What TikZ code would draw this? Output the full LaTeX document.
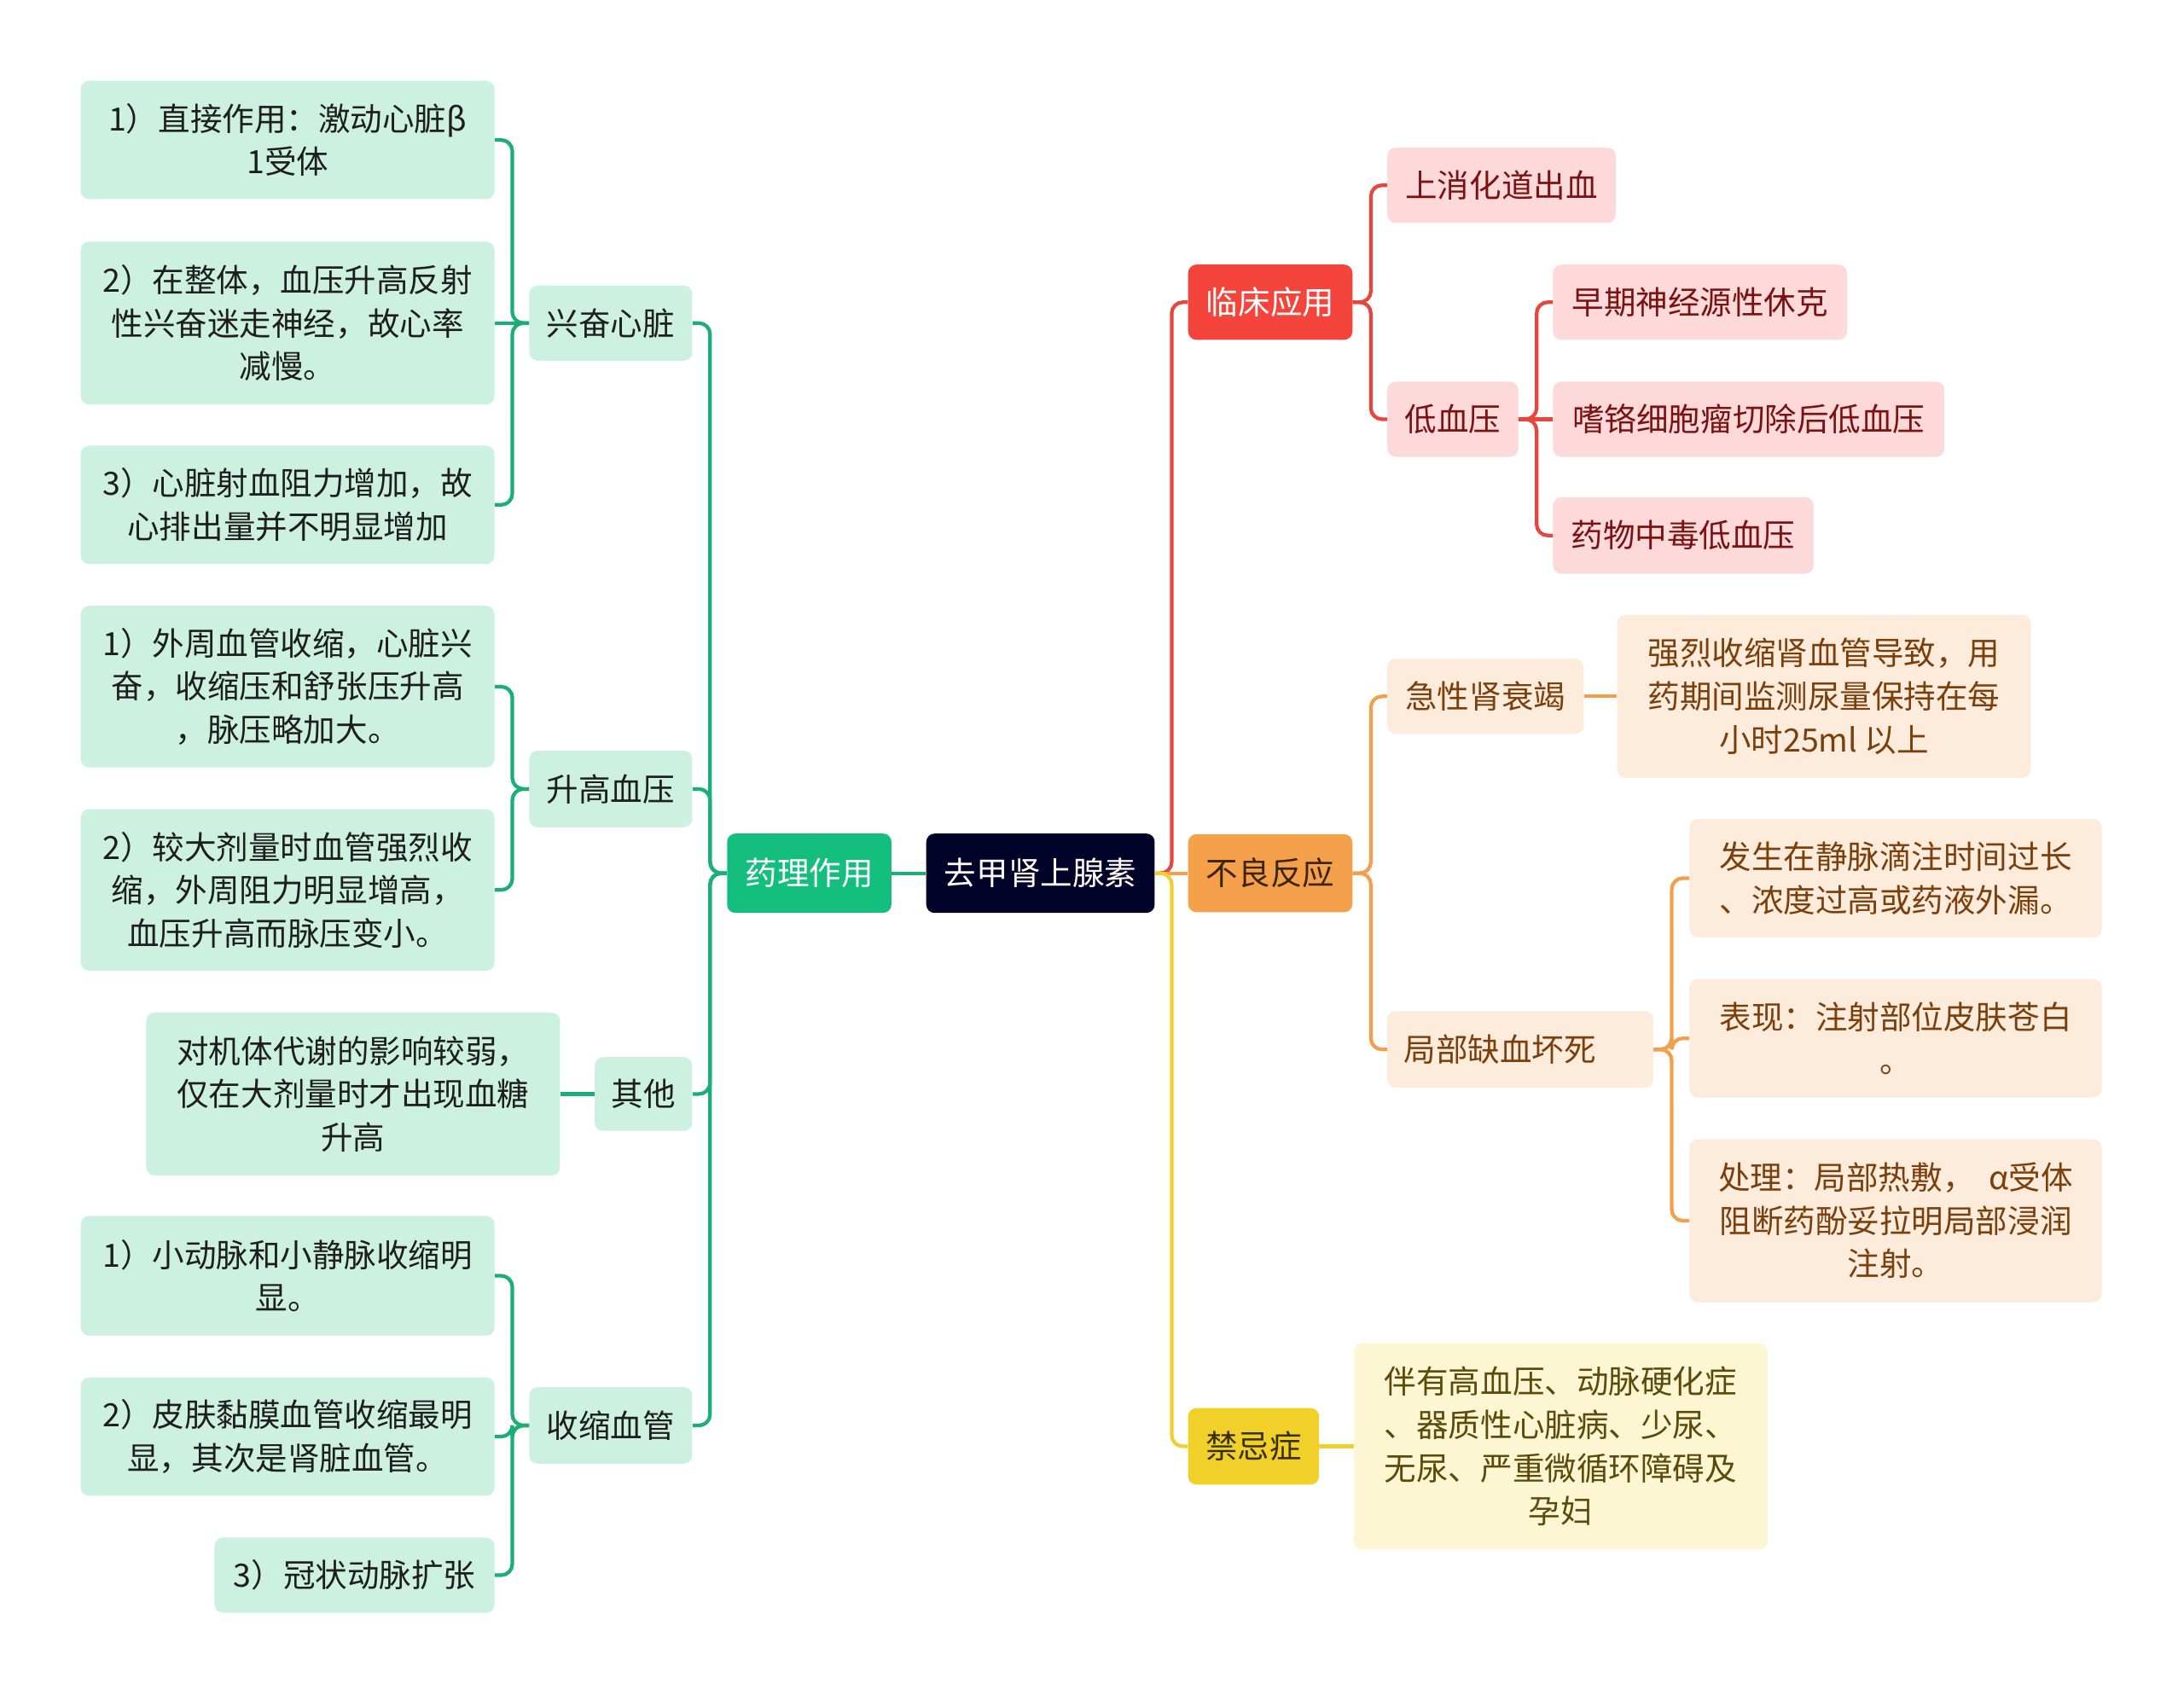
\documentclass[tikz,border=0pt]{standalone}
\usepackage{fontspec}
\setmainfont{Noto Sans CJK SC}
\definecolor{gline}{HTML}{1AAF76}
\definecolor{gmain}{HTML}{13BE7F}
\definecolor{gfill}{HTML}{CDF1E1}
\definecolor{gtext}{HTML}{1E1E1E}
\definecolor{rootfill}{HTML}{03032A}
\definecolor{rline}{HTML}{E8463D}
\definecolor{rmain}{HTML}{F4443B}
\definecolor{rfill}{HTML}{FDD9D9}
\definecolor{rtext}{HTML}{7A1212}
\definecolor{oline}{HTML}{F2A04E}
\definecolor{omain}{HTML}{F5A04B}
\definecolor{otextm}{HTML}{3C2408}
\definecolor{ofill}{HTML}{FDEBDB}
\definecolor{otext}{HTML}{7B3F0C}
\definecolor{yline}{HTML}{F0D02C}
\definecolor{ymain}{HTML}{F2D02A}
\definecolor{ytextm}{HTML}{3A3006}
\definecolor{yfill}{HTML}{FDF6D2}
\definecolor{ytext}{HTML}{5C4A0A}
\tikzset{
  box/.style={rounded corners=6pt, inner sep=0pt, align=center, font=\fontsize{23}{31}\selectfont},
  rootbox/.style={box, fill=rootfill, text=white},
  gmainbox/.style={box, fill=gmain, text=white},
  gbox/.style={box, fill=gfill, text=gtext},
  rmainbox/.style={box, fill=rmain, text=white},
  rbox/.style={box, fill=rfill, text=rtext},
  omainbox/.style={box, fill=omain, text=otextm},
  obox/.style={box, fill=ofill, text=otext},
  ymainbox/.style={box, fill=ymain, text=ytextm},
  ybox/.style={box, fill=yfill, text=ytext},
  conn/.style={line width=2.6pt, rounded corners=8pt},
  gconn/.style={conn, draw=gline},
  rconn/.style={conn, draw=rline},
  oconn/.style={conn, draw=oline},
  yconn/.style={conn, draw=yline}
}
\begin{document}
\begin{tikzpicture}[x=1pt,y=-1pt]
\useasboundingbox[fill=white] (0,0) rectangle (1568,1217);
% root and main branches
\node[rootbox, minimum width=164pt, minimum height=57pt] (root) at (747,627) {去甲肾上腺素};
\node[gmainbox, minimum width=118pt, minimum height=57pt] (yl) at (581,627) {药理作用};
\node[rmainbox, minimum width=118pt, minimum height=54pt] (lc) at (912,217) {临床应用};
\node[omainbox, minimum width=118pt, minimum height=56pt] (bl) at (912,627) {不良反应};
\node[ymainbox, minimum width=94pt, minimum height=55pt] (jj) at (900,1038.5) {禁忌症};
% left second level
\node[gbox, minimum width=117pt, minimum height=54pt] (xf) at (438.5,232) {兴奋心脏};
\node[gbox, minimum width=117pt, minimum height=55pt] (sg) at (438.5,566.5) {升高血压};
\node[gbox, minimum width=70pt, minimum height=53pt] (qt) at (462,785.5) {其他};
\node[gbox, minimum width=117pt, minimum height=55pt] (ss) at (438.5,1023.5) {收缩血管};
% left leaves
\node[gbox, minimum width=297pt, minimum height=85pt] (a1) at (206.5,100.5) {1）直接作用：激动心脏β\\1受体};
\node[gbox, minimum width=297pt, minimum height=117pt] (a2) at (206.5,232) {2）在整体，血压升高反射\\性兴奋迷走神经，故心率\\减慢。};
\node[gbox, minimum width=297pt, minimum height=85pt] (a3) at (206.5,362.5) {3）心脏射血阻力增加，故\\心排出量并不明显增加};
\node[gbox, minimum width=297pt, minimum height=116pt] (b1) at (206.5,493) {1）外周血管收缩，心脏兴\\奋，收缩压和舒张压升高\\，脉压略加大。};
\node[gbox, minimum width=297pt, minimum height=116pt] (b2) at (206.5,639) {2）较大剂量时血管强烈收\\缩，外周阻力明显增高，\\血压升高而脉压变小。};
\node[gbox, minimum width=297pt, minimum height=117pt] (c1) at (253.5,785.5) {对机体代谢的影响较弱，\\仅在大剂量时才出现血糖\\升高};
\node[gbox, minimum width=297pt, minimum height=86pt] (d1) at (206.5,916) {1）小动脉和小静脉收缩明\\显。};
\node[gbox, minimum width=297pt, minimum height=85pt] (d2) at (206.5,1031.5) {2）皮肤黏膜血管收缩最明\\显，其次是肾脏血管。};
\node[gbox, minimum width=201pt, minimum height=54pt] (d3) at (254.5,1131) {3）冠状动脉扩张};
% right: clinical use
\node[rbox, minimum width=164pt, minimum height=54pt] (r1) at (1078,133) {上消化道出血};
\node[rbox, minimum width=94pt, minimum height=54pt] (r2) at (1043,301) {低血压};
\node[rbox, minimum width=211pt, minimum height=54pt] (r21) at (1220.5,217) {早期神经源性休克};
\node[rbox, minimum width=281pt, minimum height=54pt] (r22) at (1255.5,301) {嗜铬细胞瘤切除后低血压};
\node[rbox, minimum width=187pt, minimum height=55pt] (r23) at (1208.5,384.5) {药物中毒低血压};
% right: adverse reactions
\node[obox, minimum width=141pt, minimum height=54pt] (o1) at (1066.5,500) {急性肾衰竭};
\node[obox, minimum width=297pt, minimum height=117pt] (o11) at (1309.5,500) {强烈收缩肾血管导致，用\\药期间监测尿量保持在每\\小时25ml 以上};
\node[obox, minimum height=55pt, inner xsep=12pt, text width=167pt, align=left] (o2) at (1091.5,753.5) {局部缺血坏死};
\node[obox, minimum width=296pt, minimum height=85pt] (o21) at (1361,630.5) {发生在静脉滴注时间过长\\、浓度过高或药液外漏。};
\node[obox, minimum width=296pt, minimum height=85pt] (o22) at (1361,745.5) {表现：注射部位皮肤苍白\\。};
\node[obox, minimum width=296pt, minimum height=117pt] (o23) at (1361,876.5) {处理：局部热敷，\ \ α受体\\阻断药酚妥拉明局部浸润\\注射。};
% right: contraindications
\node[ybox, minimum width=297pt, minimum height=148pt] (y1) at (1120.5,1038.5) {伴有高血压、动脉硬化症\\、器质性心脏病、少尿、\\无尿、严重微循环障碍及\\孕妇};
% connectors
\draw[gconn] (root.west) -- (yl.east);
\foreach \c in {xf,sg,qt,ss} \draw[gconn] (yl.west) -- ++(-12,0) |- (\c.east);
\foreach \c in {a1,a3} \draw[gconn] (xf.west) -- ++(-12,0) |- (\c.east);
\draw[gconn] (xf.west) -- (a2.east);
\foreach \c in {b1,b2} \draw[gconn] (sg.west) -- ++(-12,0) |- (\c.east);
\draw[gconn] (qt.west) -- (c1.east);
\foreach \c in {d1,d2,d3} \draw[gconn] (ss.west) -- ++(-12,0) |- (\c.east);
\draw[rconn] (root.east) -- ++(12,0) |- (lc.west);
\draw[oconn] (root.east) -- (bl.west);
\draw[yconn] (root.east) -- ++(12,0) |- (jj.west);
\foreach \c in {r1,r2} \draw[rconn] (lc.east) -- ++(13,0) |- (\c.west);
\foreach \c in {r21,r23} \draw[rconn] (r2.east) -- ++(13,0) |- (\c.west);
\draw[rconn] (r2.east) -- (r22.west);
\foreach \c in {o1,o2} \draw[oconn] (bl.east) -- ++(13,0) |- (\c.west);
\draw[oconn] (o1.east) -- (o11.west);
\foreach \c in {o21,o22,o23} \draw[oconn] (o2.east) -- ++(13,0) |- (\c.west);
\draw[yconn] (jj.east) -- (y1.west);
\end{tikzpicture}
\end{document}
